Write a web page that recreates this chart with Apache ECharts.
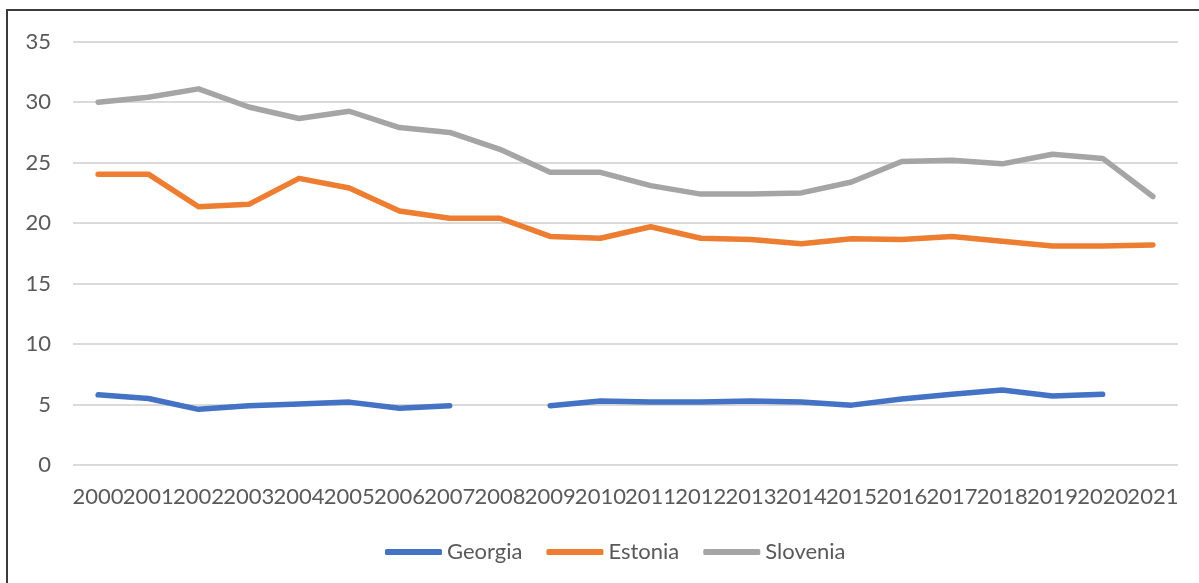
<!DOCTYPE html>
<html>
<head>
<meta charset="utf-8">
<title>Georgia, Estonia, Slovenia 2000–2021</title>
<script src="https://cdn.jsdelivr.net/npm/echarts@6/dist/echarts.min.js"></script>
<style>
  html, body { margin: 0; padding: 0; background: #fff; }
  #chart { width: 1199px; height: 583px; }
</style>
</head>
<body>
<div id="chart"></div>
<script>
// Yearly categories
const years = ['2000','2001','2002','2003','2004','2005','2006','2007','2008','2009','2010',
               '2011','2012','2013','2014','2015','2016','2017','2018','2019','2020','2021'];

// Series values (null = no data for that year)
const georgia  = [5.8, 5.5, 4.6, 4.9, 5.05, 5.2, 4.7, 4.9, null, 4.9, 5.3,
                  5.2, 5.2, 5.3, 5.2, 4.95, 5.45, 5.85, 6.2, 5.7, 5.85, null];
const estonia  = [24.05, 24.05, 21.35, 21.55, 23.7, 22.9, 21.0, 20.4, 20.4, 18.9, 18.75,
                  19.7, 18.75, 18.65, 18.3, 18.7, 18.65, 18.9, 18.5, 18.1, 18.1, 18.2];
const slovenia = [30.0, 30.4, 31.1, 29.6, 28.65, 29.25, 27.9, 27.5, 26.1, 24.2, 24.2,
                  23.1, 22.4, 22.4, 22.5, 23.4, 25.1, 25.2, 24.9, 25.7, 25.35, 22.2];

const seriesNames = ['Georgia', 'Estonia', 'Slovenia'];
const seriesColors = ['#4472C4', '#ED7D31', '#A5A5A5'];

const FONT = 'Lato, "Open Sans", sans-serif';
const TEXT_COLOR = '#595959';

const chart = echarts.init(document.getElementById('chart'), null, { renderer: 'canvas' });

function lineSeries(name, data, color) {
  return {
    name: name,
    type: 'line',
    data: data,
    symbol: 'none',
    connectNulls: false,
    lineStyle: { color: color, width: 5.5, cap: 'round', join: 'round' },
    itemStyle: { color: color },
    emphasis: { disabled: true }
  };
}

chart.setOption({
  animation: false,
  backgroundColor: '#ffffff',
  graphic: [{
    // chart frame (top and left edges visible inside the page)
    type: 'rect',
    shape: { x: 7, y: 10, width: 1400, height: 800 },
    style: { fill: 'none', stroke: '#3a3a3a', lineWidth: 2 },
    silent: true,
    z: 100
  }],
  grid: { left: 73, right: 21, top: 41.7, bottom: 118, containLabel: false },
  legend: {
    data: seriesNames,
    left: 380,
    top: 536,
    itemWidth: 57,
    itemHeight: 6,
    itemGap: 24,
    icon: 'roundRect',
    textStyle: { fontFamily: FONT, fontSize: 22, color: TEXT_COLOR }
  },
  xAxis: {
    type: 'category',
    data: years,
    boundaryGap: true,
    axisLine: { show: false },
    axisTick: { show: false },
    axisLabel: {
      interval: 0,
      margin: 21,
      fontFamily: FONT,
      fontSize: 22,
      color: TEXT_COLOR
    },
    splitLine: { show: false }
  },
  yAxis: {
    type: 'value',
    min: 0,
    max: 35,
    interval: 5,
    axisLine: { show: false },
    axisTick: { show: false },
    axisLabel: {
      margin: 22,
      fontFamily: FONT,
      fontSize: 22,
      color: TEXT_COLOR
    },
    splitLine: { show: true, lineStyle: { color: '#DADADA', width: 2 } }
  },
  series: [
    lineSeries(seriesNames[0], georgia, seriesColors[0]),
    lineSeries(seriesNames[1], estonia, seriesColors[1]),
    lineSeries(seriesNames[2], slovenia, seriesColors[2])
  ]
});
</script>
</body>
</html>
